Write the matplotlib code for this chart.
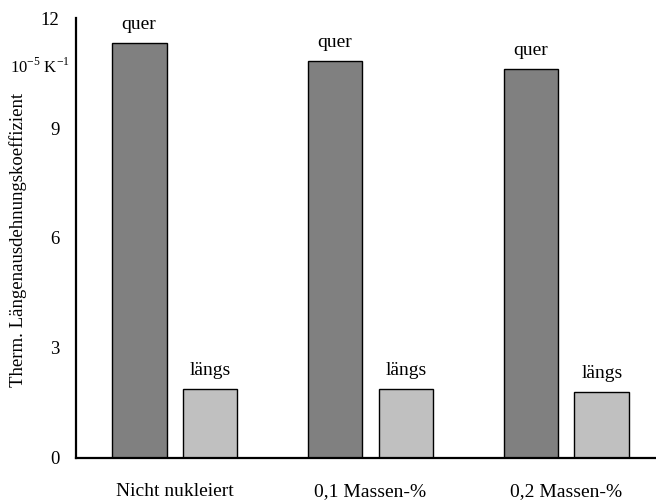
import matplotlib
matplotlib.use('Agg')
import matplotlib.pyplot as plt
import numpy as np

plt.rcParams['font.family'] = ['Liberation Serif', 'DejaVu Serif']
plt.rcParams['mathtext.fontset'] = 'custom'
plt.rcParams['mathtext.rm'] = 'Liberation Serif'

categories = ['Nicht nukleiert', '0,1 Massen-%', '0,2 Massen-%']
quer = [11.32, 10.83, 10.61]
laengs = [1.88, 1.88, 1.80]
yticks = [0, 3, 6, 9, 12]

fig = plt.figure(figsize=(6.56, 5.03), dpi=100)
ax = fig.add_axes([0.1159, 0.0895, 0.8841, 0.8747])

x = np.arange(len(categories))
off = 0.181
w = 0.28
ax.bar(x - off, quer, width=w, color='#808080', edgecolor='black', linewidth=1)
ax.bar(x + off, laengs, width=w, color='#c0c0c0', edgecolor='black', linewidth=1)

for xi, v in zip(x, quer):
    ax.text(xi - off, v + 0.28, 'quer', ha='center', va='bottom', fontsize=14)
for xi, v in zip(x, laengs):
    ax.text(xi + off, v + 0.28, 'längs', ha='center', va='bottom', fontsize=14)

ax.set_xlim(-0.503, 2.457)
ax.set_ylim(0, 12)
ax.set_yticks(yticks)
ax.set_yticklabels([str(t) for t in yticks], fontsize=13.5)
ax.tick_params(axis='y', length=0, pad=12)
ax.set_yticks([12], minor=True)
ax.tick_params(axis='y', which='minor', direction='in', length=7, width=1.5)
ax.set_xticks(x)
ax.set_xticklabels(categories, fontsize=14)
ax.tick_params(axis='x', length=0, pad=18)

for s in ['top', 'right']:
    ax.spines[s].set_visible(False)
for s in ['left', 'bottom']:
    ax.spines[s].set_linewidth(1.6)

ax.text(-0.01, 10.65, r'10$^{-5}$ K$^{-1}$', transform=ax.get_yaxis_transform(),
        ha='right', va='center', fontsize=12)
ax.set_ylabel('Therm. Längenausdehnungskoeffizient', fontsize=13.5)
ax.yaxis.set_label_coords(-0.085, 0.495)

fig.savefig('out.png', dpi=100)
